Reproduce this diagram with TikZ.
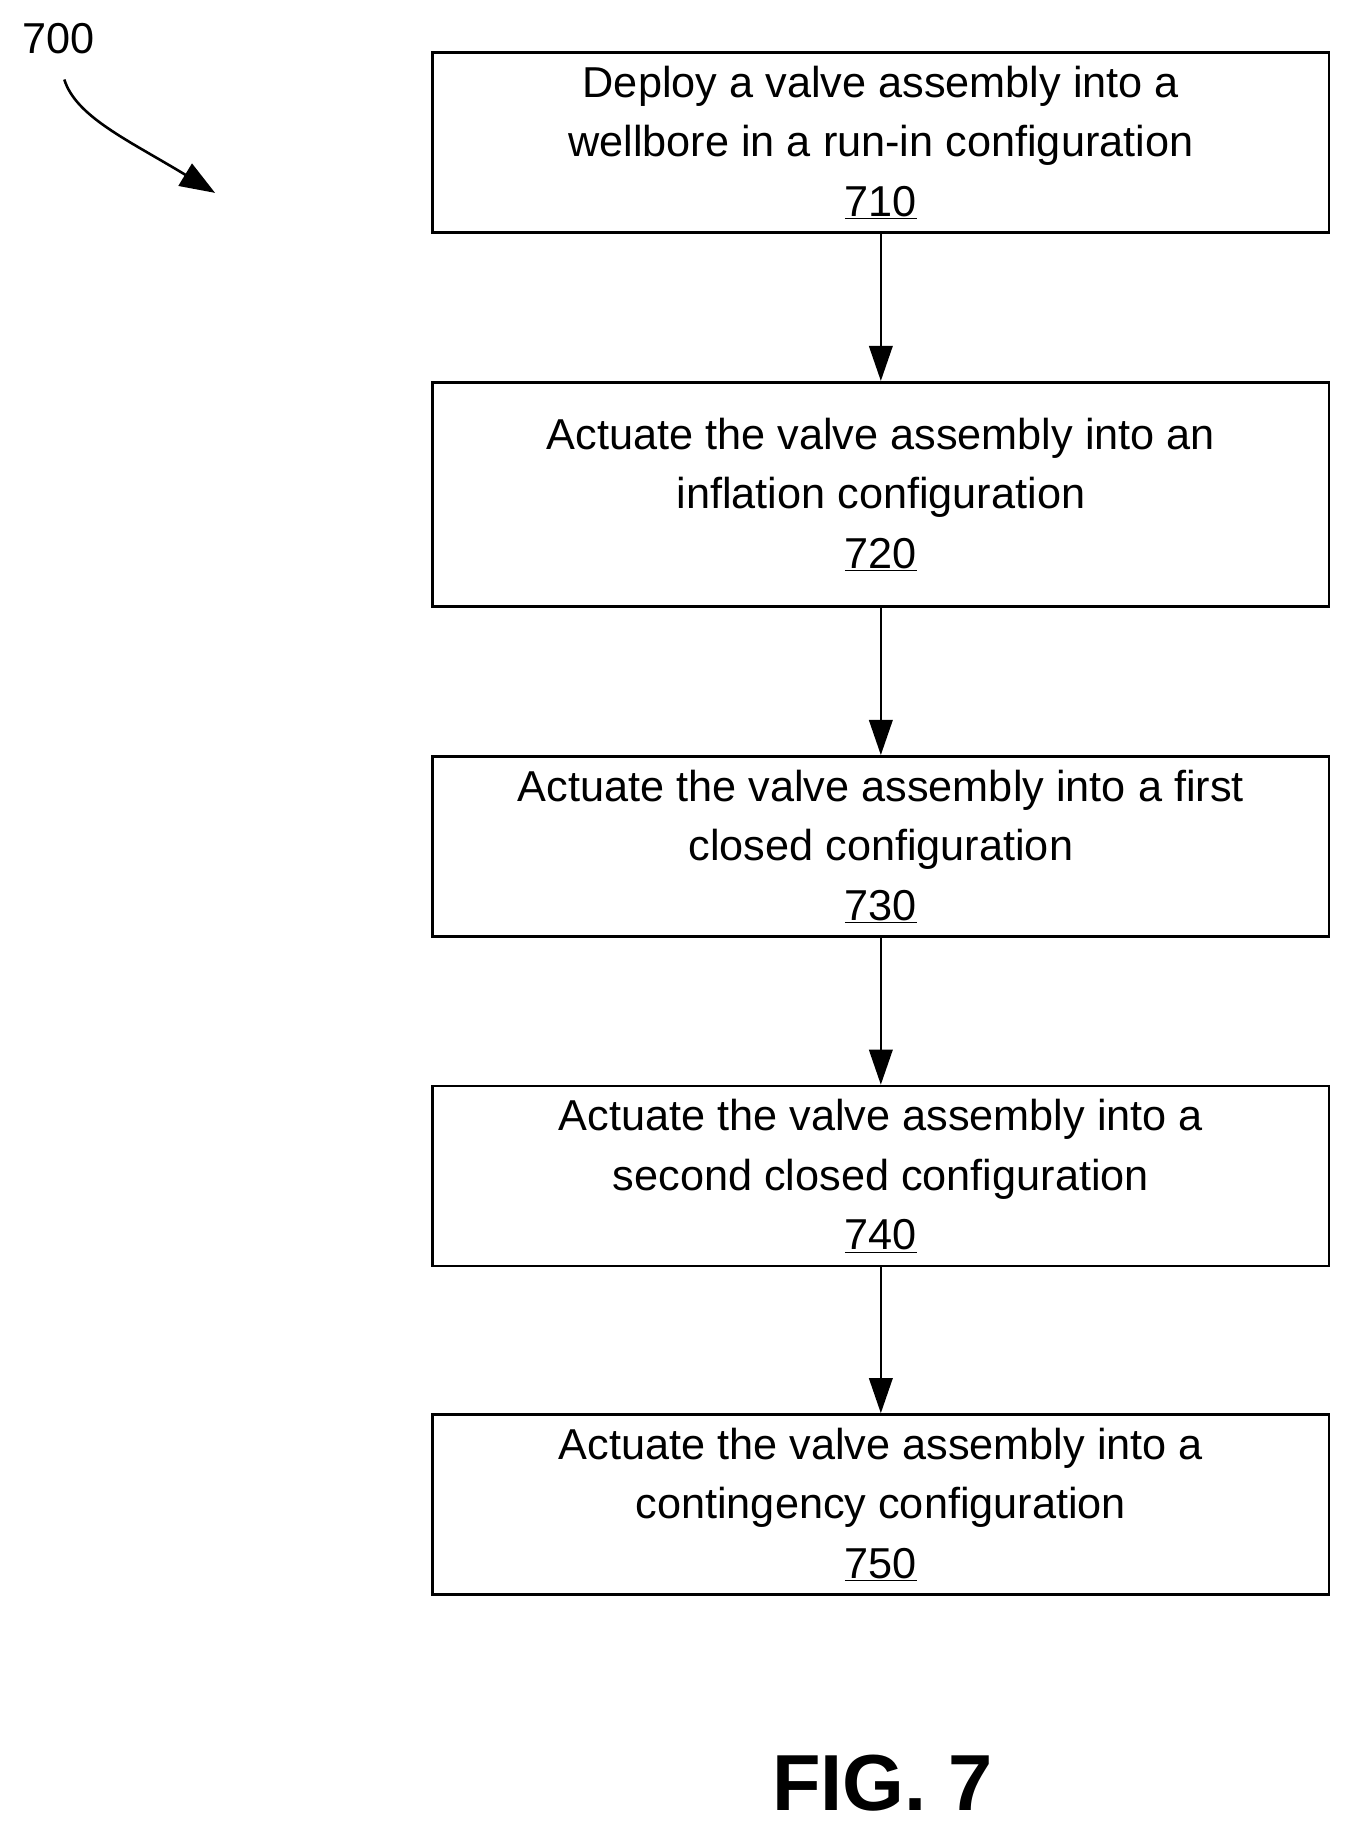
\documentclass[tikz,border=0pt]{standalone}
\usepackage{fontspec}
\setmainfont{Liberation Sans}
\usetikzlibrary{arrows.meta}
\begin{document}
\begin{tikzpicture}[x=1pt,y=-1pt,
  box/.style={draw,line width=2.2pt,minimum width=767pt,align=center,font=\fontsize{37}{51}\selectfont,inner sep=0pt},
  arr/.style={line width=2.2pt,-{Triangle[length=30pt,width=20pt]}}]
\useasboundingbox (0,0) rectangle (1160,1574);
\node[box,minimum height=154pt] (b1) at (753.5,122) {Deploy a valve assembly into a\\wellbore in a run-in configuration\\\underline{710}};
\node[box,minimum height=192pt] (b2) at (753.5,423) {Actuate the valve assembly into an\\inflation configuration\\\underline{720}};
\node[box,minimum height=154pt] (b3) at (753.5,724) {Actuate the valve assembly into a first\\closed configuration\\\underline{730}};
\node[box,minimum height=154pt] (b4) at (753.5,1006) {Actuate the valve assembly into a\\second closed configuration\\\underline{740}};
\node[box,minimum height=154pt] (b5) at (753.5,1287) {Actuate the valve assembly into a\\contingency configuration\\\underline{750}};
\draw[arr] (b1) -- (b2);
\draw[arr] (b2) -- (b3);
\draw[arr] (b3) -- (b4);
\draw[arr] (b4) -- (b5);
\node[font=\fontsize{37}{40}\selectfont] (lbl) at (50,33) {700};
\coordinate (s) at (55,68);
\coordinate (e) at (184,165);
\draw[line width=2.2pt,-{Triangle[length=30pt,width=22pt]}] (s) .. controls (65,100) and (110,120) .. (e);
\node[font=\fontsize{68}{70}\selectfont\bfseries] (fig) at (755,1525) {FIG. 7};
\end{tikzpicture}
\end{document}
